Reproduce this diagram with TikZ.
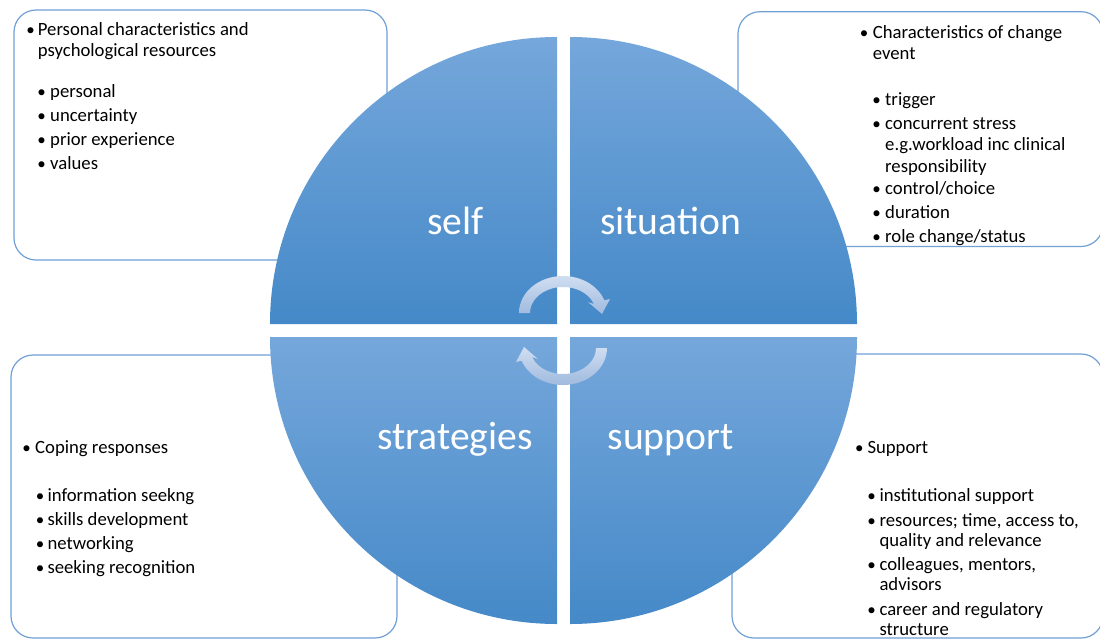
\documentclass[tikz,border=0pt]{standalone}
\usepackage{fontspec}
\setmainfont{Carlito}
\definecolor{qtop}{RGB}{117,167,219}
\definecolor{qmid}{RGB}{88,156,220}
\definecolor{qbot}{RGB}{69,137,200}
\definecolor{boxline}{RGB}{112,160,214}
\definecolor{arrtop}{RGB}{208,222,241}
\definecolor{arrbot}{RGB}{160,186,222}
\tikzset{
  infobox/.style={draw=boxline, line width=1.2pt, fill=white, rounded corners=22pt},
  quad/.style={top color=qtop, middle color=qmid, bottom color=qbot, draw=none},
  cyc/.style={top color=arrtop, bottom color=arrbot, draw=none},
  txt/.style={font=\fontsize{18.7}{21}\selectfont, anchor=base west, inner sep=0pt, text=black},
  bul/.style={font=\fontsize{17}{21}\selectfont, anchor=base, inner sep=0pt, text=black},
  lab/.style={font=\fontsize{39.6}{44}\selectfont, anchor=base, inner sep=0pt, text=white}
}
\begin{document}
\begin{tikzpicture}[x=1pt,y=-1pt]
\useasboundingbox (0,0) rectangle (1100,640);
\clip (0,0) rectangle (1100,640);
\fill[white] (0,0) rectangle (1100,640);
% boxes
\draw[infobox] (14,10) rectangle (387,260);
\draw[infobox] (738,11.7) rectangle (1103,246.5);
\draw[infobox] (11,355) rectangle (397,638);
\draw[infobox] (732,354) rectangle (1103,638);
% top-left box text
\node[bul] (b11) at (30.5,35.7) {•};
\node[txt] (t11) at (37.7,35.7) {Personal characteristics and};
\node[txt] (t12) at (37.7,56.7) {psychological resources};
\node[bul] (b12) at (41.7,97.3) {•};
\node[txt] (t13) at (50,97.3) {personal};
\node[bul] (b13) at (41.7,121.7) {•};
\node[txt] (t14) at (50,121.7) {uncertainty};
\node[bul] (b14) at (41.7,145.7) {•};
\node[txt] (t15) at (50,145.7) {prior experience};
\node[bul] (b15) at (41.7,169.3) {•};
\node[txt] (t16) at (50,169.3) {values};
% top-right box text
\node[bul] (b21) at (864,38.3) {•};
\node[txt] (t21) at (872.7,38.3) {Characteristics of change};
\node[txt] (t22) at (872.7,59.3) {event};
\node[bul] (b22) at (876.7,105) {•};
\node[txt] (t23) at (885,105) {trigger};
\node[bul] (b23) at (876.7,129.3) {•};
\node[txt] (t24) at (885,129.3) {concurrent stress};
\node[txt] (t25) at (885,150.7) {e.g.workload inc clinical};
\node[txt] (t26) at (885,172) {responsibility};
\node[bul] (b24) at (876.7,194.3) {•};
\node[txt] (t27) at (885,194.3) {control/choice};
\node[bul] (b25) at (876.7,218.3) {•};
\node[txt] (t28) at (885,218.3) {duration};
\node[bul] (b26) at (876.7,242.3) {•};
\node[txt] (t29) at (885,242.3) {role change/status};
% bottom-left box text
\node[bul] (b31) at (26.7,453.3) {•};
\node[txt] (t31) at (35,453.3) {Coping responses};
\node[bul] (b32) at (40,501.7) {•};
\node[txt] (t32) at (47.3,501.7) {information seekng};
\node[bul] (b33) at (40,525) {•};
\node[txt] (t33) at (47.3,525) {skills development};
\node[bul] (b34) at (40,549.3) {•};
\node[txt] (t34) at (47.3,549.3) {networking};
\node[bul] (b35) at (40,573.3) {•};
\node[txt] (t35) at (47.3,573.3) {seeking recognition};
% bottom-right box text
\node[bul] (b41) at (859.3,453.3) {•};
\node[txt] (t41) at (867.3,453.3) {Support};
\node[bul] (b42) at (871.7,501.7) {•};
\node[txt] (t42) at (879.3,501.7) {institutional support};
\node[bul] (b43) at (871.7,526) {•};
\node[txt] (t43) at (879.3,526) {resources; time, access to,};
\node[txt] (t44) at (879.3,546.7) {quality and relevance};
\node[bul] (b44) at (871.7,570.7) {•};
\node[txt] (t45) at (879.3,570.7) {colleagues, mentors,};
\node[txt] (t46) at (879.3,590.7) {advisors};
\node[bul] (b45) at (871.7,615) {•};
\node[txt] (t47) at (879.3,615) {career and regulatory};
\node[txt] (t48) at (879.3,635) {structure};
% quadrants
\shade[quad] (557,324) -- (270,324) arc[start angle=180, end angle=270, radius=287] -- cycle;
\shade[quad] (570,324) -- (570,37) arc[start angle=270, end angle=360, radius=287] -- cycle;
\shade[quad] (557,337) -- (270,337) arc[start angle=180, end angle=90, radius=287] -- cycle;
\shade[quad] (570,337) -- (857,337) arc[start angle=0, end angle=90, radius=287] -- cycle;
% labels
\node[lab] (self) at (455.5,234.5) {self};
\node[lab] (situation) at (670.5,234.5) {situation};
\node[lab] (strategies) at (455,449.5) {strategies};
\node[lab] (support) at (670.5,449.5) {support};
% cycle arrows
\shade[cyc] (519,313) arc[start angle=180, end angle=340, x radius=44, y radius=37]
  -- (610,299) -- (602,314) -- (588,302) -- (594.0,304.1)
  arc[start angle=340, end angle=180, x radius=33, y radius=26] -- cycle;
\shade[cyc] (607,348) arc[start angle=0, end angle=160, x radius=44, y radius=37]
  -- (516,362) -- (524,347) -- (538,359) -- (532.0,356.9)
  arc[start angle=160, end angle=0, x radius=33, y radius=26] -- cycle;
\end{tikzpicture}
\end{document}
